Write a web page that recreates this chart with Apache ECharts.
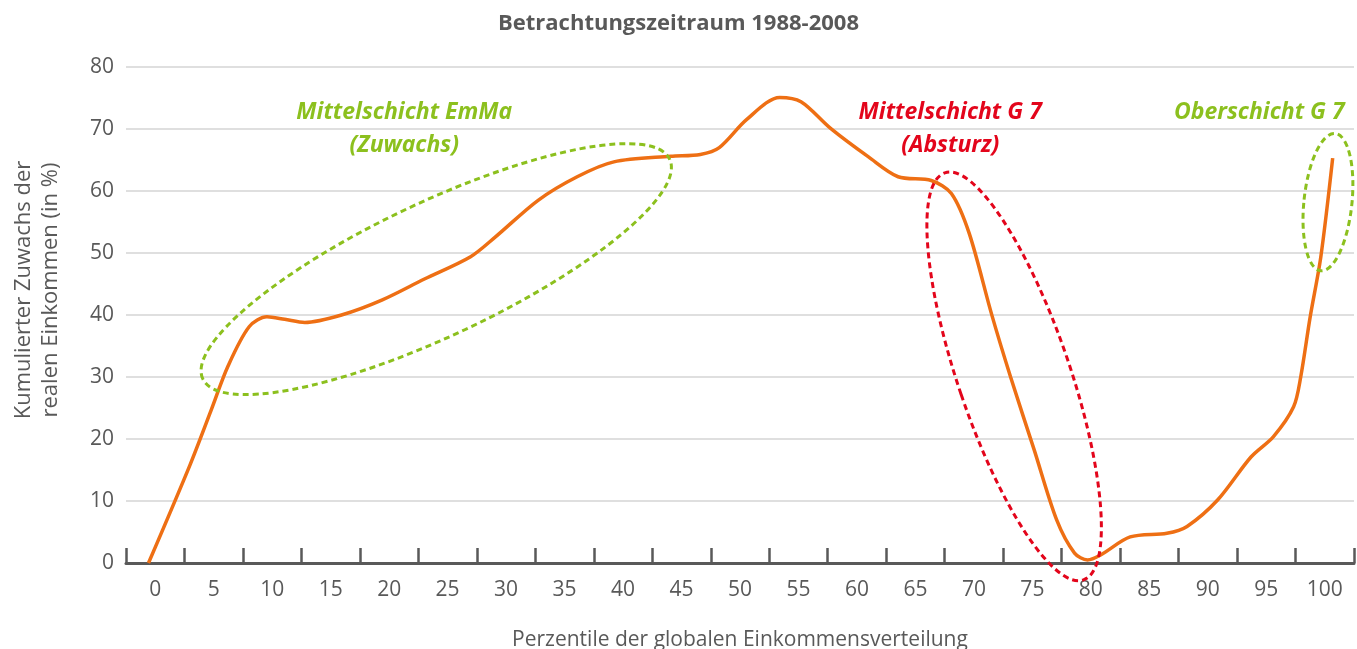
<!DOCTYPE html>
<html>
<head>
<meta charset="utf-8">
<script src="https://cdn.jsdelivr.net/npm/echarts@6/dist/echarts.min.js"></script>
<style>
  html, body { margin: 0; padding: 0; background: #fff; }
  #chart { width: 1357px; height: 649px; }
</style>
</head>
<body>
<div id="chart"></div>
<script>
// tick labels of the category axis
var percentileLabels = ['0', '5', '10', '15', '20', '25', '30', '35', '40', '45', '50',
  '55', '60', '65', '70', '75', '80', '85', '90', '95', '100'];

// curve: percentile -> cumulated growth (%)
var percentile = [0, 3.5, 5.3, 6.7, 8.5, 10, 11.5, 13.2, 16.3, 19.7, 23.3, 27.2, 29.3, 32.9,
  36.2, 39.3, 44.1, 46.6, 48.2, 50.5, 53.3, 55.1, 57.6, 60.8, 63.3, 66.1, 67.8, 69.3,
  71.2, 72.8, 74.8, 76.7, 78.2, 79.3, 80.4, 82.9, 86, 87.7, 90.3, 93.1, 95, 96.7, 97.3,
  98.1, 99, 100];
var growth = [0, 15.8, 24.7, 31.7, 38.1, 39.7, 39.3, 38.8, 40, 42.4, 45.8, 49.4, 52.6, 58.5,
  62.3, 64.7, 65.6, 65.9, 67, 71.5, 75.1, 74.4, 70.1, 65.5, 62.3, 61.7, 59.6, 53.2,
  40.1, 30, 18.2, 6.9, 1.6, 0.5, 1.3, 4.2, 4.8, 5.9, 10.2, 17.1, 20.4, 25.2, 30,
  39.7, 49.4, 65.3];

var yTicks = { min: 0, max: 80, interval: 10 };

var grey = '#595959';
var green = '#8cc01e';
var red = '#e3051b';
var orange = '#ee6f14';
var font = 'Open Sans';

var chart = echarts.init(document.getElementById('chart'));

var option = {
  animation: false,
  textStyle: { fontFamily: font },
  title: {
    text: 'Betrachtungszeitraum 1988-2008',
    left: 'center',
    top: 8,
    textStyle: { fontFamily: font, fontSize: 22, fontWeight: 'bold', color: grey }
  },
  grid: { left: 126, right: 3, top: 67, bottom: 86, containLabel: false, outerBoundsMode: 'none' },
  xAxis: [{
    type: 'category',
    data: percentileLabels,
    boundaryGap: true,
    axisLine: { show: true, lineStyle: { color: grey, width: 3 } },
    axisTick: { show: true, inside: true, length: 15, interval: 0, lineStyle: { color: grey, width: 2.5 } },
    axisLabel: { color: grey, fontSize: 21, margin: 17, interval: 0, fontFamily: font },
    splitLine: { show: false },
    name: 'Perzentile der globalen Einkommensverteilung',
    nameLocation: 'middle',
    nameGap: 67,
    nameTextStyle: { color: grey, fontSize: 21, fontFamily: font }
  }, {
    type: 'value',
    min: -1.9,
    max: 101.8,
    show: false
  }],
  yAxis: {
    type: 'value',
    min: yTicks.min,
    max: yTicks.max,
    interval: yTicks.interval,
    axisLine: { show: false },
    axisTick: { show: false },
    axisLabel: { color: grey, fontSize: 21, margin: 12, fontFamily: font },
    splitLine: { lineStyle: { color: '#d4d4d4', width: 1.5 } },
    name: 'Kumulierter Zuwachs der\nrealen Einkommen (in %)',
    nameLocation: 'middle',
    nameRotate: 90,
    nameGap: 62,
    nameTextStyle: { color: grey, fontSize: 22, lineHeight: 27, fontFamily: font, padding: [0, 0, 0, 50] }
  },
  series: [{
    type: 'line',
    xAxisIndex: 1,
    data: percentile.map(function (p, i) { return [p, growth[i]]; }),
    smooth: 0.3,
    symbol: 'none',
    lineStyle: { color: orange, width: 3.5 },
    z: 3
  }]
};
chart.setOption(option);

// annotation ellipses, anchored in data space
function px(p, v) {
  return chart.convertToPixel({ xAxisIndex: 1, yAxisIndex: 0 }, [p, v]);
}
function ring(center, rx, ry, deg, color) {
  var c = px(center[0], center[1]);
  return {
    type: 'ellipse',
    x: c[0], y: c[1],
    rotation: deg * Math.PI / 180,
    shape: { cx: 0, cy: 0, rx: rx, ry: ry },
    style: { fill: null, stroke: color, lineWidth: 3, lineDash: [6, 4] },
    z: 10
  };
}
function label(center, text, color) {
  var c = px(center[0], center[1]);
  return {
    type: 'text',
    x: c[0], y: c[1],
    style: {
      text: text,
      fill: color,
      font: 'italic bold 23px "' + font + '"',
      align: 'center',
      verticalAlign: 'middle',
      lineHeight: 33
    },
    z: 10
  };
}

chart.setOption({
  graphic: [
    ring([24.3, 47.4], 258, 67, 25.2, green),
    ring([73.1, 30.1], 56, 215, 18.8, red),
    ring([99.6, 58.2], 24, 69, -6, green),
    label([21.6, 70.0], 'Mittelschicht EmMa\n(Zuwachs)', green),
    label([67.7, 70.0], 'Mittelschicht G 7\n(Absturz)', red),
    label([93.8, 72.7], 'Oberschicht G 7', green)
  ]
});
</script>
</body>
</html>
